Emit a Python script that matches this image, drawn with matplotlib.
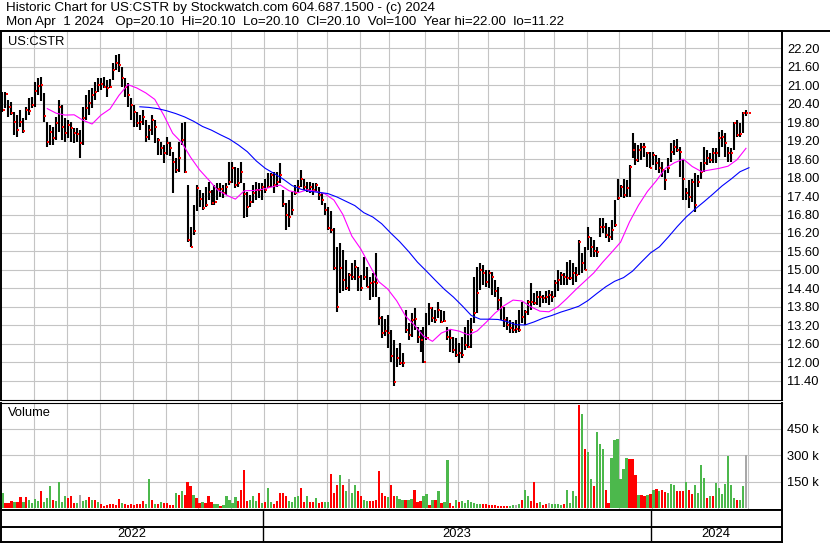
import numpy as np
import pandas as pd
import matplotlib
matplotlib.use("Agg")
import matplotlib.pyplot as plt
from matplotlib.lines import Line2D

plt.rcParams['font.family'] = ['Liberation Sans', 'DejaVu Sans']

# one bar for every second weekday, 2 May 2022 .. 1 Apr 2024
dates = pd.bdate_range('2022-05-02', '2024-04-01')[::2]

high = [20.79, 20.79, 20.52, 20.47, 20.14, 20.03, 20.20, 19.93, 20.30, 20.58,
        20.63, 21.12, 21.25, 21.28, 20.74, 19.82, 19.71, 19.65, 19.98, 20.52,
        20.36, 19.93, 19.87, 19.82, 19.60, 19.60, 19.55, 20.30, 20.68, 20.85,
        20.90, 21.12, 21.23, 21.23, 21.28, 21.17, 21.20, 21.71, 21.98, 22.00,
        21.60, 21.23, 21.06, 20.58, 20.36, 20.14, 20.03, 20.20, 19.87, 19.71,
        20.03, 19.87, 19.28, 19.17, 19.06, 19.33, 19.17, 18.84, 18.63, 19.17,
        19.76, 19.82, 17.76, 16.40, 17.10, 17.76, 17.60, 17.49, 17.70, 17.87,
        17.60, 17.75, 17.81, 17.81, 17.76, 17.81, 18.52, 18.52, 18.35, 18.30,
        18.52, 17.81, 17.54, 17.43, 17.76, 17.87, 17.81, 17.81, 17.97, 18.14,
        18.14, 18.19, 18.19, 18.46, 17.60, 17.16, 17.27, 17.54, 17.76, 17.92,
        18.25, 17.97, 17.87, 17.87, 17.81, 17.81, 17.70, 17.49, 17.16, 17.05,
        16.90, 16.35, 15.75, 15.86, 15.64, 15.32, 14.89, 15.21, 15.32, 15.10,
        14.83, 15.43, 15.10, 14.78, 14.89, 15.54, 14.13, 13.50, 13.40, 13.54,
        13.05, 12.72, 12.45, 12.62, 12.29, 13.70, 13.26, 13.59, 13.75, 13.16,
        13.05, 13.16, 13.59, 13.91, 13.81, 13.70, 13.97, 13.70, 13.65, 13.16,
        13.05, 12.83, 12.78, 12.62, 12.83, 13.16, 13.37, 13.43, 14.78, 15.10,
        15.21, 15.16, 15.00, 15.00, 14.94, 14.67, 14.46, 14.13, 13.81, 13.48,
        13.37, 13.32, 13.37, 13.70, 13.97, 13.70, 14.02, 14.56, 14.24, 14.30,
        14.30, 14.19, 14.30, 14.35, 14.30, 14.67, 15.00, 14.94, 14.89, 15.27,
        15.32, 15.21, 15.11, 15.97, 15.54, 15.76, 16.40, 16.08, 15.97, 15.76,
        16.68, 16.68, 16.51, 16.40, 16.62, 17.27, 17.97, 17.75, 17.95, 17.92,
        18.41, 19.44, 19.11, 19.06, 19.11, 19.11, 18.84, 18.84, 18.84, 18.73,
        18.62, 18.52, 18.25, 18.62, 19.11, 19.22, 19.24, 19.00, 18.57, 17.65,
        17.92, 17.97, 18.14, 18.08, 18.52, 19.00, 18.90, 18.79, 18.95, 18.95,
        19.49, 19.55, 19.44, 19.00, 18.95, 19.82, 19.87, 19.76, 20.14, 20.20,
        20.10]
low = [20.14, 20.25, 19.98, 20.03, 19.38, 19.33, 19.65, 19.44, 19.87, 20.03,
       20.25, 20.30, 20.68, 20.50, 19.82, 19.00, 19.06, 19.06, 19.22, 19.49,
       19.22, 19.17, 19.28, 19.17, 19.11, 19.17, 18.63, 19.06, 19.87, 20.03,
       20.25, 20.52, 20.79, 20.85, 20.90, 20.63, 20.90, 21.17, 21.50, 21.44,
       20.95, 20.63, 20.30, 19.87, 19.65, 19.65, 19.55, 19.71, 19.17, 19.22,
       19.38, 19.11, 18.73, 18.73, 18.46, 18.73, 18.70, 17.49, 18.14, 18.19,
       19.06, 18.14, 15.92, 15.73, 16.15, 16.90, 17.05, 16.95, 17.05, 17.27,
       17.11, 17.10, 17.27, 17.38, 17.33, 17.43, 17.76, 17.81, 17.65, 17.70,
       17.81, 16.68, 16.73, 17.05, 17.16, 17.27, 17.33, 17.27, 17.49, 17.65,
       17.70, 17.49, 17.70, 17.81, 17.05, 16.30, 16.40, 16.78, 17.43, 17.54,
       17.70, 17.60, 17.54, 17.49, 17.43, 17.54, 17.27, 17.11, 16.78, 16.30,
       16.20, 15.00, 13.64, 14.24, 14.30, 14.35, 14.30, 14.67, 14.67, 14.30,
       14.30, 14.67, 14.45, 14.02, 14.13, 14.13, 13.21, 12.80, 12.85, 12.45,
       12.00, 11.22, 11.86, 11.91, 11.86, 12.94, 12.72, 12.83, 13.05, 12.62,
       12.34, 11.97, 12.72, 13.21, 13.32, 13.27, 13.43, 13.27, 13.30, 12.72,
       12.34, 12.29, 12.18, 11.97, 12.13, 12.40, 12.45, 12.45, 13.27, 13.59,
       14.35, 14.51, 14.46, 14.40, 14.19, 14.13, 13.70, 13.37, 13.16, 13.05,
       12.94, 12.94, 12.94, 12.99, 13.27, 13.21, 13.54, 13.70, 13.86, 13.86,
       13.81, 13.91, 13.91, 13.86, 13.97, 14.13, 14.30, 14.51, 14.51, 14.51,
       14.67, 14.51, 14.62, 14.83, 14.89, 14.99, 15.65, 15.43, 15.43, 15.43,
       16.08, 16.19, 16.03, 15.92, 15.97, 16.40, 17.27, 17.38, 17.35, 17.38,
       17.38, 18.62, 18.41, 18.52, 18.57, 18.68, 18.35, 18.30, 18.41, 18.25,
       18.14, 18.03, 17.60, 18.14, 18.52, 18.73, 18.84, 18.03, 17.27, 17.27,
       17.00, 17.22, 16.89, 17.70, 17.97, 18.19, 18.41, 18.46, 18.46, 18.46,
       18.68, 19.00, 18.68, 18.52, 18.52, 18.90, 19.33, 19.33, 19.44, 20.00,
       20.10]
close = [20.20, 20.70, 20.30, 20.10, 19.82, 19.53, 19.82, 19.50, 20.20, 20.15,
         20.36, 20.81, 20.98, 21.01, 20.00, 19.17, 19.47, 19.30, 19.76, 20.30,
         19.65, 19.44, 19.71, 19.60, 19.44, 19.40, 19.11, 19.95, 20.25, 20.41,
         20.68, 20.79, 21.00, 21.05, 20.95, 20.90, 20.95, 21.50, 21.71, 21.65,
         21.22, 20.95, 20.68, 20.36, 20.14, 19.76, 19.80, 19.98, 19.33, 19.55,
         19.87, 19.65, 19.22, 18.95, 18.79, 19.11, 18.95, 18.52, 18.25, 18.63,
         19.22, 18.19, 15.97, 15.75, 16.25, 17.67, 17.32, 17.02, 17.11, 17.54,
         17.16, 17.20, 17.63, 17.63, 17.49, 17.70, 17.87, 18.30, 17.76, 17.83,
         18.19, 17.46, 17.05, 17.22, 17.49, 17.60, 17.60, 17.70, 17.60, 17.70,
         18.08, 17.76, 17.87, 18.08, 17.13, 16.78, 16.73, 16.95, 17.49, 17.70,
         17.97, 17.70, 17.60, 17.70, 17.60, 17.76, 17.43, 17.27, 16.95, 16.35,
         16.30, 15.05, 13.80, 15.05, 14.67, 14.40, 14.83, 14.78, 15.10, 14.78,
         14.40, 14.78, 14.45, 14.56, 14.62, 14.56, 13.43, 12.95, 13.00, 12.94,
         12.20, 11.37, 12.13, 11.97, 11.99, 13.05, 12.89, 13.37, 13.40, 12.83,
         12.72, 12.02, 12.78, 13.75, 13.43, 13.37, 13.70, 13.32, 13.35, 12.83,
         12.78, 12.40, 12.24, 12.29, 12.24, 12.56, 12.51, 13.05, 13.59, 14.24,
         15.00, 14.89, 14.62, 14.89, 14.78, 14.30, 14.02, 13.81, 13.37, 13.21,
         13.10, 13.05, 13.07, 13.05, 13.48, 13.64, 13.97, 13.97, 13.91, 14.13,
         14.13, 14.08, 14.13, 14.19, 14.13, 14.56, 14.67, 14.83, 14.78, 14.73,
         14.75, 14.89, 14.83, 15.92, 15.21, 14.99, 16.08, 15.76, 15.60, 15.59,
         16.40, 16.40, 16.13, 16.08, 16.30, 16.45, 17.33, 17.70, 17.45, 17.65,
         18.35, 18.90, 18.57, 18.90, 19.00, 19.00, 18.79, 18.30, 18.73, 18.46,
         18.30, 18.25, 17.92, 18.30, 18.84, 19.00, 18.90, 18.84, 17.97, 17.49,
         17.38, 17.86, 17.11, 17.87, 18.19, 18.46, 18.62, 18.57, 18.79, 18.79,
         19.27, 19.33, 19.11, 18.79, 18.79, 19.76, 19.38, 19.40, 20.09, 20.09,
         20.10]

# volume in thousands, colour code: g = up, r = down, n = unchanged
volume_k = [88, 31, 31, 40, 34, 34, 63, 34, 63, 50,
            31, 53, 44, 97, 34, 59, 126, 46, 40, 149,
            34, 69, 59, 69, 31, 31, 74, 44, 46, 63,
            46, 50, 34, 27, 15, 21, 27, 25, 17, 53,
            31, 27, 21, 23, 17, 27, 27, 40, 25, 164,
            46, 27, 27, 34, 31, 31, 21, 21, 88, 78,
            97, 78, 149, 126, 74, 59, 31, 34, 31, 69,
            34, 27, 25, 11, 21, 69, 46, 31, 63, 40,
            107, 218, 40, 50, 69, 40, 88, 31, 34, 116,
            34, 27, 40, 88, 88, 69, 40, 34, 65, 73,
            116, 34, 69, 34, 34, 59, 31, 34, 34, 34,
            197, 88, 135, 189, 135, 97, 168, 88, 135, 97,
            73, 46, 40, 40, 40, 46, 212, 88, 73, 63,
            135, 73, 69, 53, 50, 50, 50, 53, 107, 34,
            44, 69, 84, 21, 50, 50, 97, 31, 34, 275,
            31, 15, 46, 34, 40, 31, 46, 34, 31, 27,
            27, 27, 27, 21, 21, 19, 15, 15, 15, 15,
            15, 19, 21, 27, 50, 103, 69, 40, 149, 31,
            34, 21, 27, 31, 27, 27, 27, 21, 27, 107,
            31, 97, 69, 584, 536, 336, 317, 164, 126, 431,
            364, 336, 107, 31, 288, 389, 393, 164, 225, 288,
            282, 279, 189, 78, 76, 73, 78, 84, 103, 111,
            97, 103, 92, 88, 141, 135, 97, 97, 101, 149,
            107, 80, 130, 88, 244, 174, 59, 69, 73, 145,
            116, 84, 141, 298, 130, 59, 50, 46, 126, 301,
            0.1]
vol_dir = ("grrrgrrgrg" "gggrgggrgg" "ggrrrgnggr" "grgrrrrrrr" "grrrrrrrgg"
           "rgrgrrrrgr" "grrrgrrgrr" "rggrgggggr" "rrrgggrgrg" "grrrrrgggg"
           "rrgrrgrrgg" "rrrgrgnggr" "rggrrrrrrg" "rrgggrggrr" "rggrgrgrgg"
           "rrgrgggggg" "grrrrrrrrr" "ggngrggrrr" "grrnggggrg" "gggrgrggrg"
           "ggrrgggggg" "rrrgrrgrgr" "grrgggrrrg" "rrggggrgrg" "ggggggrggn" "n")

# moving averages as drawn on the chart, one value every third bar
ma_fast_start = 15
ma_fast = [20.24, 20.09, 20.03, 20.04, 19.86, 19.74, 20.03, 20.23, 20.67, 21.02,
           20.91, 20.75, 20.54, 20.03, 19.44, 19.14, 18.66, 18.25, 17.93, 17.60,
           17.43, 17.30, 17.57, 17.58, 17.62, 17.69, 17.76, 17.57, 17.51, 17.60,
           17.55, 17.47, 17.27, 16.80, 16.10, 15.68, 15.14, 14.62, 14.38, 14.00,
           13.50, 13.20, 12.85, 12.68, 12.95, 13.07, 13.01, 12.89, 13.02, 13.30,
           13.60, 13.84, 14.02, 13.99, 13.80, 13.66, 13.64, 13.80, 14.07, 14.36,
           14.63, 14.90, 15.25, 15.57, 15.90, 16.56, 17.10, 17.55, 17.90, 18.30,
           18.48, 18.60, 18.36, 18.20, 18.25, 18.30, 18.37, 18.58, 18.95]
ma_slow_start = 46
ma_slow = [20.30, 20.28, 20.24, 20.17, 20.08, 19.97, 19.83, 19.66, 19.54, 19.39,
           19.25, 19.06, 18.84, 18.54, 18.30, 18.13, 17.95, 17.74, 17.62, 17.55,
           17.52, 17.48, 17.37, 17.23, 17.09, 16.86, 16.72, 16.50, 16.20, 15.92,
           15.60, 15.25, 14.96, 14.66, 14.37, 14.12, 13.83, 13.52, 13.40, 13.40,
           13.39, 13.32, 13.22, 13.21, 13.31, 13.43, 13.52, 13.63, 13.72, 13.82,
           14.00, 14.23, 14.45, 14.63, 14.75, 14.96, 15.26, 15.55, 15.75, 16.07,
           16.41, 16.72, 16.98, 17.22, 17.47, 17.73, 17.95, 18.19, 18.32]

price_ticks = np.round(np.arange(11.4, 22.21, 0.6), 2)
vol_ticks = [150, 300, 450]

W, H = 830, 543
FS = 9.3
fig = plt.figure(figsize=(W / 100, H / 100), dpi=100)


def box(l, t, r, b):
    return [l / W, 1 - b / H, (r - l) / W, (b - t) / H]


def fxy(px, py):
    return px / W, 1 - py / H


x = np.arange(len(dates))
xlim = (-0.5, 260.9)
months = dates.to_period('M')
month_pos = [i - 0.4 for i in range(1, len(dates)) if months[i] != months[i - 1]]
year_pos = [i - 0.9 for i in range(1, len(dates)) if dates[i].year != dates[i - 1].year]
grid_kw = dict(color='#c4c4c4', lw=0.8)
blk = 1.4

# price panel
ax = fig.add_axes(box(1, 31, 781.5, 400))
ax.set_xlim(*xlim)
ax.set_ylim(10.774, 22.762)
ax.set_yticks(price_ticks)
ax.set_yticklabels(['%.2f' % t for t in price_ticks])
ax.set_xticks(month_pos)
ax.set_xticklabels([])
ax.yaxis.tick_right()
ax.tick_params(length=0, pad=4, labelsize=FS)
ax.grid(True, **grid_kw)
ax.set_axisbelow(True)
ax.vlines(x, low, high, color='black', lw=1.5)
ax.plot(x + 0.35, close, 's', color='red', ms=2.0, mew=0)
ax.plot(ma_fast_start + 3 * np.arange(len(ma_fast)), ma_fast, color='#ff00ff', lw=0.8)
ax.plot(ma_slow_start + 3 * np.arange(len(ma_slow)), ma_slow, color='#0000ff', lw=0.8)
for s in ['left', 'right', 'top']:
    ax.spines[s].set_linewidth(blk)
ax.spines['bottom'].set_linewidth(0.8)

# volume panel
axv = fig.add_axes(box(1, 402.5, 781.5, 509.5))
axv.set_xlim(*xlim)
axv.set_ylim(-6, 600)
cols = {'g': '#4cb84c', 'r': '#ff0000', 'n': '#a8a8a8'}
axv.bar(x, volume_k, width=0.75, color=[cols[c] for c in vol_dir], linewidth=0)
axv.set_yticks(vol_ticks)
axv.set_yticklabels(['%d k' % v for v in vol_ticks])
axv.set_xticks(month_pos)
axv.set_xticklabels([])
axv.yaxis.tick_right()
axv.tick_params(length=0, pad=4, labelsize=FS)
axv.grid(True, **grid_kw)
axv.set_axisbelow(True)
for s in ['left', 'right', 'bottom']:
    axv.spines[s].set_linewidth(blk)
axv.spines['top'].set_linewidth(0.8)

# date strip
axd = fig.add_axes(box(1, 509.5, 781.5, 541.7))
axd.set_xlim(*xlim)
axd.set_ylim(0, 1)
axd.set_xticks([])
axd.set_yticks([])
for s in axd.spines.values():
    s.set_linewidth(blk)
axd.axhline(0.47, color='black', lw=blk)
for p in year_pos:
    axd.axvline(p, color='black', lw=1.0)
edges = [xlim[0]] + year_pos + [xlim[1]]
years = [dates[0].year] + [dates[int(p) + 1].year for p in year_pos]
for a, b, yr in zip(edges[:-1], edges[1:], years):
    axd.text((a + b) / 2, 0.23, str(yr), ha='center', va='center', fontsize=FS)

fig.add_artist(Line2D([0, 1], [1 - 31 / H] * 2, color='black', lw=blk, transform=fig.transFigure))

fig.text(*fxy(6, 8), 'Historic Chart for US:CSTR by Stockwatch.com 604.687.1500 - (c) 2024',
         va='center', fontsize=9.6)
fig.text(*fxy(6, 22), 'Mon Apr  1 2024   Op=20.10  Hi=20.10  Lo=20.10  Cl=20.10  Vol=100  Year hi=22.00  lo=11.22',
         va='center', fontsize=9.6)
fig.text(*fxy(8, 42), 'US:CSTR', va='center', fontsize=FS)
fig.text(*fxy(8, 413), 'Volume', va='center', fontsize=FS)

fig.savefig('out.png', dpi=100)
